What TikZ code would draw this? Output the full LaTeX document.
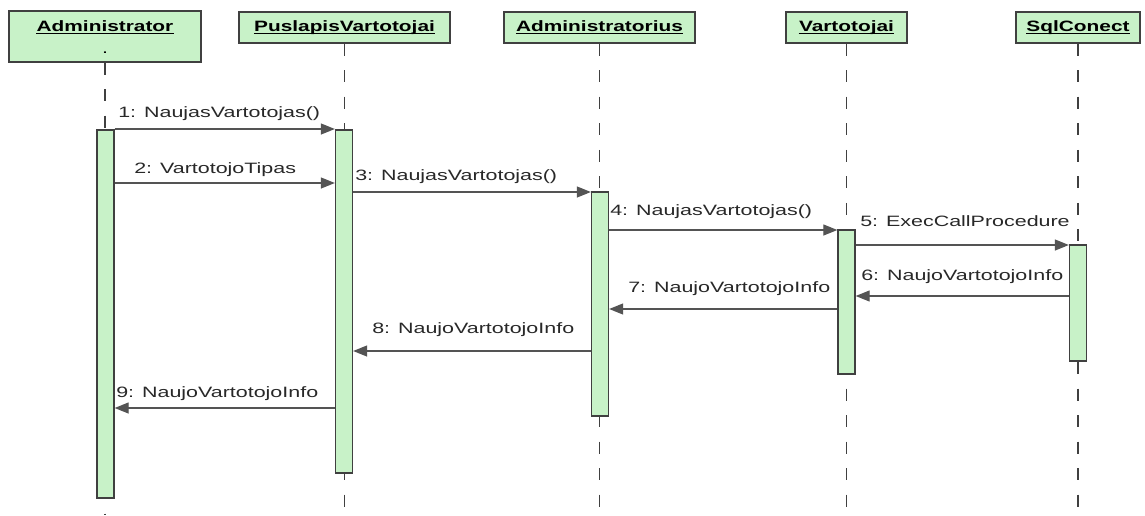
\documentclass[tikz,border=0pt]{standalone}
\usepackage{fontspec}
\setmainfont{Liberation Sans}
\newfontfamily\msgfont[FakeStretch=1.43]{Liberation Sans}
\newfontfamily\hdrfont[FakeStretch=1.39]{Liberation Sans}
\usetikzlibrary{arrows.meta}

\definecolor{lifefill}{RGB}{200,242,200}
\definecolor{edge}{RGB}{64,64,64}
\definecolor{msgline}{RGB}{84,84,84}
\definecolor{msgtext}{RGB}{40,40,40}

\begin{document}
\begin{tikzpicture}[
  x=0.75pt, y=-0.75pt,
  header/.style={draw=edge, line width=1pt, fill=lifefill, inner sep=0pt},
  hlabel/.style={anchor=base, inner sep=0pt, text=black,
    font=\hdrfont\bfseries\fontsize{11.25pt}{13pt}\selectfont},
  uline/.style={draw=black, line width=0.8pt},
  bar/.style={draw=edge, line width=1pt, fill=lifefill, inner sep=0pt,
    minimum width=12.75pt},
  lifeline/.style={draw=edge, line width=0.9pt, dash pattern=on 9pt off 10.9pt},
  msg/.style={draw=msgline, line width=0.9pt,
    -{Triangle[length=10.5pt,width=8.25pt]}},
  msglabel/.style={anchor=base west, inner sep=0pt, text=msgtext,
    font=\msgfont\fontsize{11.25pt}{13pt}\selectfont}
]
\path[use as bounding box, fill=white] (0,0) rectangle (1145,515);

% object boxes
\node[header, minimum width=144pt, minimum height=38.25pt] (hAdm) at (105,36.5) {};
\node[header, minimum width=158.25pt, minimum height=23.25pt] (hPus) at (344.5,27.5) {};
\node[header, minimum width=143.25pt, minimum height=23.25pt] (hAdr) at (599.5,27.5) {};
\node[header, minimum width=90.75pt, minimum height=23.25pt] (hVar) at (846.5,27.5) {};
\node[header, minimum width=93pt, minimum height=23.25pt] (hSql) at (1078,27.5) {};

% lifelines
\coordinate (eAdm) at (hAdm.south |- 0,515);
\coordinate (ePus) at (hPus.south |- 0,515);
\coordinate (eAdr) at (hAdr.south |- 0,515);
\coordinate (eVar) at (hVar.south |- 0,515);
\coordinate (eSql) at (hSql.south |- 0,515);
\draw[lifeline] (hAdm.south) -- (eAdm);
\draw[lifeline] (hPus.south) -- (ePus);
\draw[lifeline] (hAdr.south) -- (eAdr);
\draw[lifeline] (hVar.south) -- (eVar);
\draw[lifeline] (hSql.south) -- (eSql);

% object names, underlined
\node[hlabel] (tAdm) at (105,31) {Administrator};
\node[hlabel] (tPus) at (344.5,31) {PuslapisVartotojai};
\node[hlabel] (tAdr) at (599.5,31) {Administratorius};
\node[hlabel] (tVar) at (846.5,31) {Vartotojai};
\node[hlabel] (tSql) at (1078,31) {SqlConect};
\foreach \t in {tAdm,tPus,tAdr,tVar,tSql}
  \draw[uline] ([yshift=-1.6pt]\t.base west) -- ([yshift=-1.6pt]\t.base east);
\node[anchor=base, inner sep=0pt, font=\msgfont\fontsize{11.25pt}{13pt}\selectfont] (dAdm) at (105,53) {.};

% activation bars
\node[bar, minimum height=276pt]    (b1) at (105.5,314) {};
\node[bar, minimum height=257.25pt] (b2) at (344,301.5) {};
\node[bar, minimum height=168pt]    (b3) at (600,304) {};
\node[bar, minimum height=108pt]    (b4) at (846.5,302) {};
\node[bar, minimum height=87pt]     (b5) at (1078,303) {};

% messages
\draw[msg] (b1.east |- 0,129) -- (b2.west |- 0,129);
\draw[msg] (b1.east |- 0,183) -- (b2.west |- 0,183);
\draw[msg] (b2.east |- 0,192) -- (b3.west |- 0,192);
\draw[msg] (b3.east |- 0,230) -- (b4.west |- 0,230);
\draw[msg] (b4.east |- 0,245) -- (b5.west |- 0,245);
\draw[msg] (b5.west |- 0,296) -- (b4.east |- 0,296);
\draw[msg] (b4.west |- 0,309) -- (b3.east |- 0,309);
\draw[msg] (b3.west |- 0,351) -- (b2.east |- 0,351);
\draw[msg] (b2.west |- 0,408) -- (b1.east |- 0,408);

% message labels
\node[msglabel] (l1) at (118,117) {1: NaujasVartotojas()};
\node[msglabel] (l2) at (134,173) {2: VartotojoTipas};
\node[msglabel] (l3) at (355,180) {3: NaujasVartotojas()};
\node[msglabel] (l4) at (610,215) {4: NaujasVartotojas()};
\node[msglabel] (l5) at (860,226) {5: ExecCallProcedure};
\node[msglabel] (l6) at (861,280) {6: NaujoVartotojoInfo};
\node[msglabel] (l7) at (628,292) {7: NaujoVartotojoInfo};
\node[msglabel] (l8) at (372,333) {8: NaujoVartotojoInfo};
\node[msglabel] (l9) at (116,397) {9: NaujoVartotojoInfo};
\end{tikzpicture}
\end{document}
